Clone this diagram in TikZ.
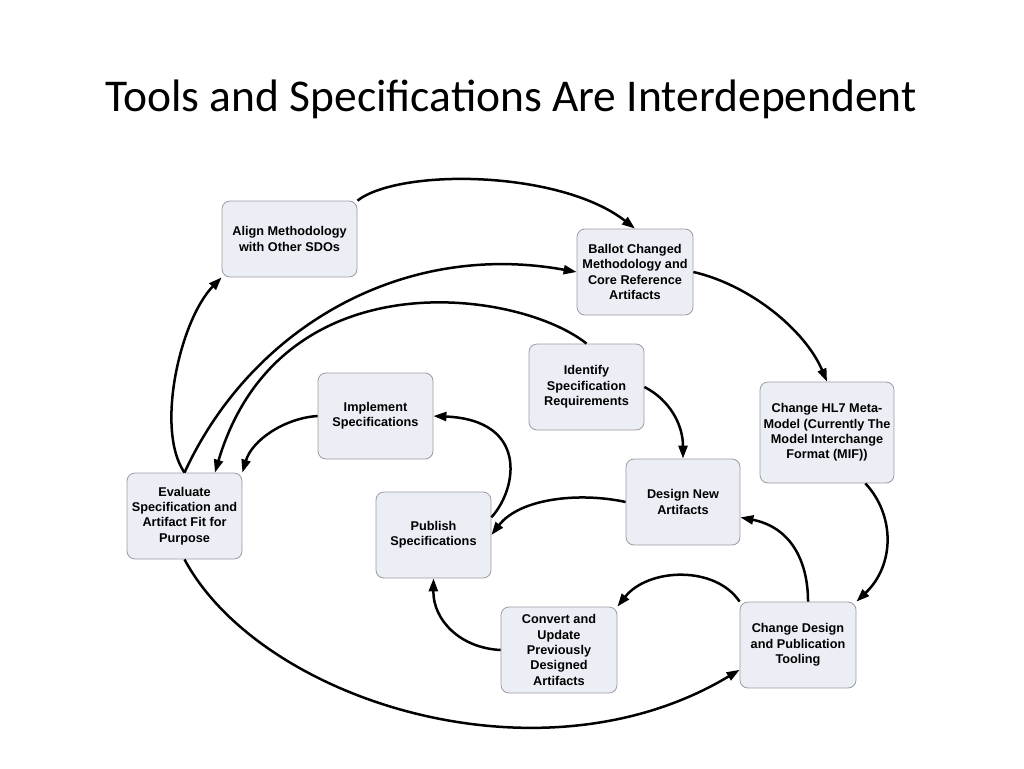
\documentclass[tikz,border=0pt]{standalone}
\usepackage{fontspec}
\usepackage{tikz}
\usetikzlibrary{arrows.meta}
\newfontfamily\titlefont{Carlito}
\newfontfamily\boxfont{Liberation Sans}
\definecolor{boxfill}{RGB}{236,238,245}
\definecolor{boxline}{RGB}{155,155,165}
\tikzset{
BOX/.style ={draw=boxline, fill=boxfill, line width=0.8pt, rounded corners=8pt, inner sep=0pt, minimum width=115pt, minimum height=86pt, align=center, font=\boxfont\bfseries\fontsize{12.7}{15.3}\selectfont},
FLOW/.style ={draw=black, line width=2.5pt, -{Triangle[length=13pt,width=9pt]}},
TITLE/.style={font=\titlefont\fontsize{45.5}{55}\selectfont, anchor=base},
}
\begin{document}
\begin{tikzpicture}
[x=1pt, y=-1pt]
	\useasboundingbox (0,0) rectangle (1024,768);
	\node[TITLE] (title) at (511,111) {Tools and Specifications Are Interdependent};
	\node[BOX, minimum width=135pt, minimum height=76pt] (align) at (289.5,239) {Align Methodology\\with Other SDOs};
	\node[BOX, minimum width=116pt] (ballot) at (635,272) {Ballot Changed\\Methodology and\\Core Reference\\Artifacts};
	\node[BOX] (identify) at (586.5,387) {Identify\\Specification\\Requirements};
	\node[BOX, minimum width=134pt, minimum height=101pt] (hl7) at (827,432.5) {Change HL7 Meta-\\Model (Currently The\\Model Interchange\\Format (MIF))};
	\node[BOX] (implement) at (375.5,416) {Implement\\Specifications};
	\node[BOX] (eval) at (184.5,516) {Evaluate\\Specification and\\Artifact Fit for\\Purpose};
	\node[BOX] (publish) at (433.5,535) {Publish\\Specifications};
	\node[BOX, minimum width=114pt] (design) at (683,502) {Design New\\Artifacts};
	\node[BOX, minimum width=116pt] (convert) at (559,650) {Convert and\\Update\\Previously\\Designed\\Artifacts};
	\node[BOX, minimum width=116pt] (change) at (798,645) {Change Design\\and Publication\\Tooling};
	% outer loop
	\path[FLOW] (align.north east) .. controls (400,168) and (560,170) .. (ballot.north);
	\path[FLOW] (eval.north) .. controls (250,330) and (400,240) .. (ballot.west);
	\path[FLOW] (eval.north) .. controls (155,430) and (180,320) .. (align.south west);
	\path[FLOW] (identify.north) .. controls (520,290) and (280,255) .. (eval.55);
	\path[FLOW] (implement.west) .. controls (285,418) and (252,440) .. (eval.north east);
	\path[FLOW] (ballot.east) .. controls (750,285) and (805,330) .. (hl7.north);
	\path[FLOW] (hl7.-53) .. controls (895,515) and (895,565) .. (change.north east);
	\path[FLOW] (eval.south) .. controls (260,700) and (540,790) .. (change.203);
	% inner loop
	\path[FLOW] (publish.17) .. controls (518,488) and (528,420) .. (implement.east);
	\path[FLOW] (identify.east) .. controls (670,400) and (683,425) .. (design.north);
	\path[FLOW] (change.77) .. controls (808,560) and (790,527) .. (design.-15);
	\path[FLOW] (change.north west) .. controls (715,565) and (648,568) .. (convert.north east);
	\path[FLOW] (design.west) .. controls (580,492) and (520,498) .. (publish.east);
	\path[FLOW] (convert.west) .. controls (460,648) and (433,620) .. (publish.south);
\end{tikzpicture}
\end{document}
